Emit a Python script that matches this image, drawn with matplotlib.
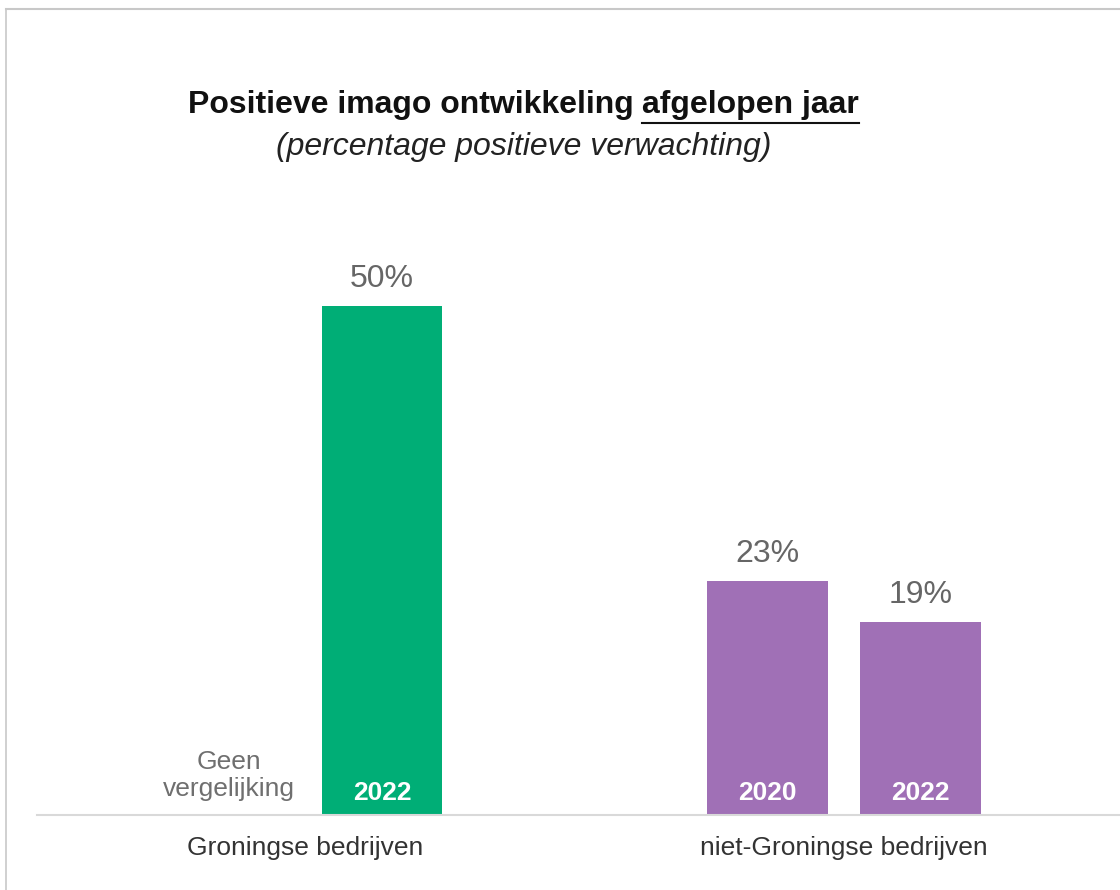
import numpy as np
import matplotlib
matplotlib.use('Agg')
import matplotlib.pyplot as plt
from matplotlib.lines import Line2D

plt.rcParams['font.family'] = ['Liberation Sans', 'DejaVu Sans']

# data
groups = ['Groningse bedrijven', 'niet-Groningse bedrijven']
bar_group = [0, 1, 1]
bar_slot = [1, 0, 1]          # slot within group (0 = left, 1 = right)
bar_year = ['2022', '2020', '2022']
bar_value = [50, 23, 19]
bar_color = ['#00AE76', '#A070B6', '#A070B6']
empty_note = 'Geen\nvergelijking'   # shown in empty slot of first group

title_a = 'Positieve imago ontwikkeling '
title_b = 'afgelopen jaar'
subtitle = '(percentage positieve verwachting)'

W, H = 1120, 890
fig = plt.figure(figsize=(W / 100, H / 100), dpi=100)

# axes: baseline at y=815px, spans x 37..1120
ax = fig.add_axes([37 / W, (H - 815) / H, (W - 37) / W, 610.8 / H])

group_pos = np.array([0.0, 3.52])
slot_off = [-0.5, 0.5]
xs = [group_pos[g] + slot_off[s] for g, s in zip(bar_group, bar_slot)]

ax.bar(xs, bar_value, width=0.79, color=bar_color)
ax.set_xlim(-1.755, 5.324)
ax.set_ylim(0, 60)

for x, v, yr in zip(xs, bar_value, bar_year):
    ax.annotate(f'{v}%', (x, v), xytext=(0, 13.7), textcoords='offset points',
                ha='center', va='baseline', fontsize=23, color='#666666')
    ax.annotate(yr, (x, 0), xytext=(0, 15.5), textcoords='offset points',
                ha='center', va='center', fontsize=19, fontweight='bold', color='white')

ax.annotate(empty_note, (group_pos[0] + slot_off[0], 0), xytext=(0, 28.5),
            textcoords='offset points', ha='center', va='center',
            multialignment='center', linespacing=1.2, fontsize=19, color='#6f6f6f')

ax.set_xticks(group_pos)
ax.set_xticklabels(groups, fontsize=19, color='#333333')
ax.tick_params(axis='x', length=0, pad=15)
ax.set_yticks([])
for s in ['top', 'right', 'left']:
    ax.spines[s].set_visible(False)
ax.spines['bottom'].set_color('#D9D9D9')
ax.spines['bottom'].set_linewidth(1.5)

# title with underlined second part
fig.canvas.draw()
r = fig.canvas.get_renderer()
ta = fig.text(0, 1 - 113 / H, title_a, fontsize=23, fontweight='bold', color='#111111', va='baseline')
tb = fig.text(0, 1 - 113 / H, title_b, fontsize=23, fontweight='bold', color='#111111', va='baseline')
wa = ta.get_window_extent(r).width
wb = tb.get_window_extent(r).width
x0 = 523.5 - (wa + wb) / 2
ta.set_x(x0 / W)
tb.set_x((x0 + wa) / W)
fig.add_artist(Line2D([(x0 + wa) / W, (x0 + wa + wb) / W], [1 - 123 / H] * 2,
                      color='#111111', lw=1.5))

fig.text(523.5 / W, 1 - 155 / H, subtitle, fontsize=23, style='italic',
         color='#222222', ha='center', va='baseline')

# frame of the slide
fig.add_artist(Line2D([6 / W, 1], [1 - 9 / H] * 2, color='#C8C8C8', lw=1.5))
fig.add_artist(Line2D([6 / W, 6 / W], [0, 1 - 9 / H], color='#C8C8C8', lw=1.2))

fig.savefig('out.png', dpi=100)
